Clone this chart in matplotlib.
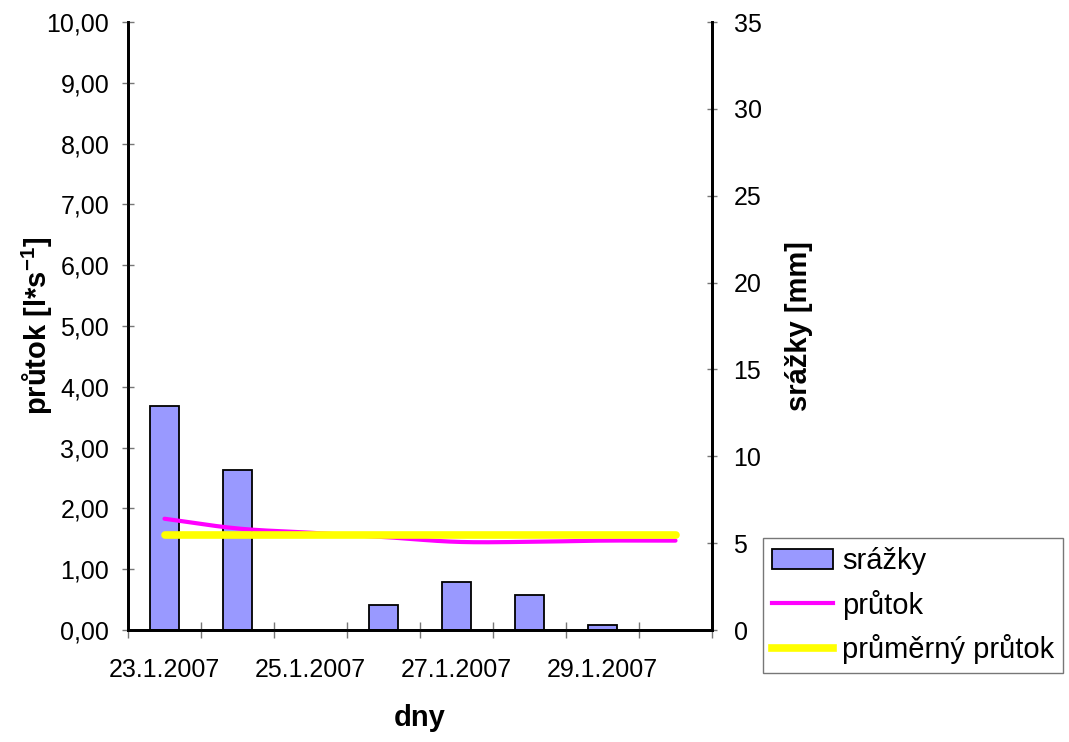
import matplotlib
matplotlib.use("Agg")
import matplotlib.pyplot as plt
import numpy as np
from matplotlib.lines import Line2D
from matplotlib.patches import Patch

plt.rcParams['font.family'] = ['Liberation Sans', 'DejaVu Sans']
plt.rcParams['mathtext.fontset'] = 'custom'
plt.rcParams['mathtext.rm'] = 'Liberation Sans'
plt.rcParams['mathtext.bf'] = 'Liberation Sans:bold'

dates = ["23.1.2007", "24.1.2007", "25.1.2007", "26.1.2007",
         "27.1.2007", "28.1.2007", "29.1.2007", "30.1.2007"]
srazky = [12.9, 9.2, 0.0, 1.45, 2.75, 2.0, 0.3, 0.0]
prutok = [1.83, 1.67, 1.60, 1.53, 1.45, 1.45, 1.47, 1.47]
prumerny_prutok = [1.57] * 8

W, H = 1069, 742
fig = plt.figure(figsize=(W / 100, H / 100), dpi=100)
ax = fig.add_axes([128 / W, (H - 630) / H, (712 - 128) / W, (630 - 22) / H])
ax2 = ax.twinx()

x = np.arange(len(dates))
fs = 18
lfs = 21

# bars on secondary axis
ax2.bar(x, srazky, width=0.41, color='#9999FF', edgecolor='black', linewidth=1.3, zorder=1)
ax2.set_ylim(0, 35)
ax2.set_yticks(np.arange(0, 36, 5))
ax2.tick_params(axis='y', direction='inout', length=7, width=1, colors='#777777', labelcolor='black', labelsize=fs, pad=12)


def catmull(xs, ys, n=30):
    xs = np.asarray(xs, float); ys = np.asarray(ys, float)
    px = np.concatenate([[2 * xs[0] - xs[1]], xs, [2 * xs[-1] - xs[-2]]])
    py = np.concatenate([[2 * ys[0] - ys[1]], ys, [2 * ys[-1] - ys[-2]]])
    ox, oy = [], []
    for i in range(1, len(px) - 2):
        t = np.linspace(0, 1, n, endpoint=(i == len(px) - 3))
        for arr, out in ((px, ox), (py, oy)):
            p0, p1, p2, p3 = arr[i - 1], arr[i], arr[i + 1], arr[i + 2]
            out.extend(0.5 * ((2 * p1) + (-p0 + p2) * t + (2 * p0 - 5 * p1 + 4 * p2 - p3) * t ** 2
                              + (-p0 + 3 * p1 - 3 * p2 + p3) * t ** 3))
    return np.array(ox), np.array(oy)


ax.set_zorder(ax2.get_zorder() + 1)
ax.patch.set_visible(False)
sx, sy = catmull(x, prutok)
ax.plot(sx, sy, color='#FF00FF', linewidth=3, solid_capstyle='round', zorder=3)
ax.plot(x, prumerny_prutok, color='#FFFF00', linewidth=5.5, solid_capstyle='round', zorder=4)

ax.set_ylim(0, 10)
ax.set_xlim(-0.5, len(dates) - 0.5)
ax.set_yticks(np.arange(0, 10.01, 1))
ax.set_yticklabels([f"{v:.2f}".replace('.', ',') for v in np.arange(0, 10.01, 1)])
ax.tick_params(axis='y', direction='inout', length=9, width=1, colors='#777777', labelcolor='black', labelsize=fs, pad=9)

# x ticks: marks at category boundaries, labels every second category
ax.set_xticks(np.arange(-0.5, len(dates), 1.0))
ax.set_xticklabels([])
ax.set_xticks(x[::2], minor=True)
ax.set_xticklabels([dates[i] for i in x[::2]], minor=True)
ax.tick_params(axis='x', which='major', direction='inout', length=12, width=1, colors='#777777')
ax.tick_params(axis='x', which='minor', length=0, labelsize=fs, labelcolor='black', pad=20)

for a in (ax, ax2):
    for s in a.spines.values():
        s.set_linewidth(2)
    a.spines['top'].set_visible(False)

ax.set_ylabel("průtok [l*s$^{\\mathbf{-1}}$]", fontsize=lfs, fontweight='bold', labelpad=-6)
ax2.set_ylabel("srážky [mm]", fontsize=lfs, fontweight='bold', labelpad=17)
fig.text(420 / W, 1 - 718 / H, "dny", fontsize=lfs, fontweight='bold', ha='center', va='center')

handles = [Patch(facecolor='#9999FF', edgecolor='black', linewidth=1.3),
           Line2D([], [], color='#FF00FF', linewidth=3),
           Line2D([], [], color='#FFFF00', linewidth=5.5)]
labels = ["srážky", "průtok", "průměrný průtok"]
leg = fig.legend(handles, labels, loc='lower left', bbox_to_anchor=(763 / W, (H - 673) / H),
                 fontsize=lfs, frameon=True, fancybox=False, edgecolor='#555555',
                 handlelength=2.1, borderpad=0.3, labelspacing=0.5,
                 handletextpad=0.3, borderaxespad=0)
leg.get_frame().set_linewidth(1)

fig.savefig("out.png", dpi=100)
